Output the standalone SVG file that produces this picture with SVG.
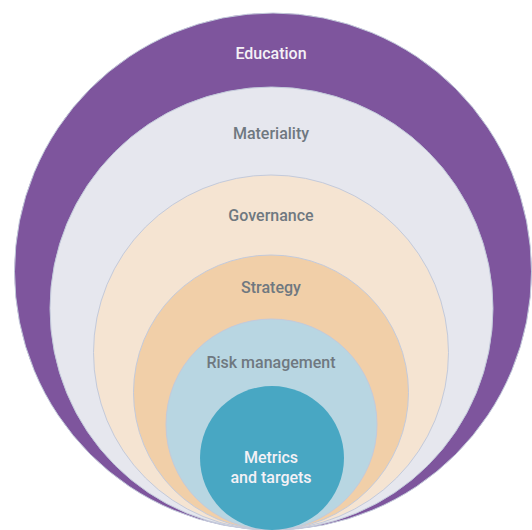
<svg xmlns="http://www.w3.org/2000/svg" width="532" height="530" viewBox="0 0 532 530">
<style>
.ring{stroke:#c3cadb;stroke-width:1}
.lbl{font-family:Roboto,"Liberation Sans",sans-serif;font-size:16px;font-weight:500;text-anchor:middle}
.dark{fill:#6f7880}
.light{fill:#f4f1f6}
</style>
<rect width="532" height="530" fill="#ffffff"/>
<g id="education">
<circle class="ring" cx="273" cy="271.5" r="258.5" fill="#7e559d" stroke="#b7c4e6" stroke-width="1.5"/>
<text class="lbl light" x="271" y="59">Education</text>
</g>
<g id="materiality">
<circle class="ring" cx="271.5" cy="308.5" r="221.5" fill="#e6e7ee"/>
<text class="lbl dark" x="271" y="139">Materiality</text>
</g>
<g id="governance">
<circle class="ring" cx="271" cy="352.5" r="177.5" fill="#f5e4d2"/>
<text class="lbl dark" x="271" y="221">Governance</text>
</g>
<g id="strategy">
<circle class="ring" cx="271" cy="392.5" r="137.5" fill="#f1cfa8"/>
<text class="lbl dark" x="271" y="293">Strategy</text>
</g>
<g id="risk-management">
<circle class="ring" cx="271.5" cy="424.5" r="105.5" fill="#b8d6e2"/>
<text class="lbl dark" x="271" y="368">Risk management</text>
</g>
<g id="metrics-and-targets">
<circle cx="272" cy="458" r="72" fill="#48a7c3"/>
<text class="lbl light" x="271" y="463">Metrics</text>
<text class="lbl light" x="271" y="483">and targets</text>
</g>
<g id="connectors"></g>
</svg>
